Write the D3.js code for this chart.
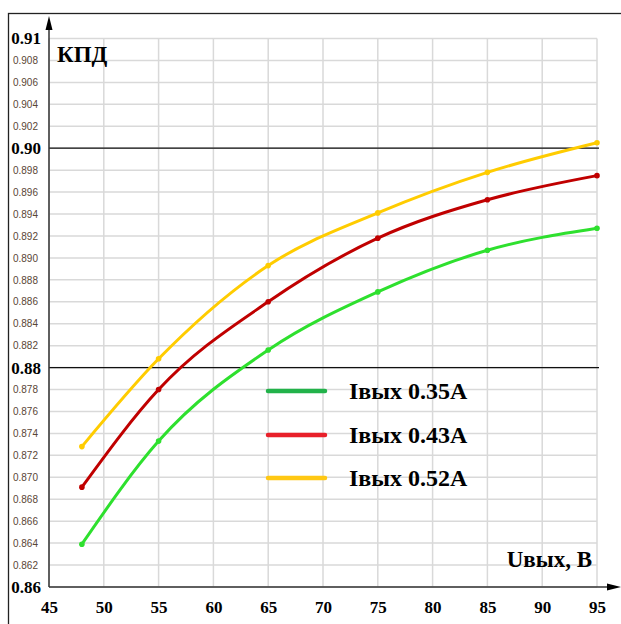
<!DOCTYPE html>
<html>
<head>
<meta charset="utf-8">
<script src="https://cdn.jsdelivr.net/npm/d3@7"></script>
<style>
  body { margin: 0; background: #fff; }
  svg { display: block; }
  .serif { font-family: "Liberation Serif", "Times New Roman", serif; font-weight: bold; }
</style>
</head>
<body>
<div id="chart"></div>
<script>
var
  width = 621,
  height = 624;

// data
var voltages = [48, 55, 65, 75, 85, 95];
var eff035 = [0.8639, 0.8733, 0.8816, 0.8869, 0.8907, 0.8927];
var eff043 = [0.8691, 0.8780, 0.8860, 0.8918, 0.8953, 0.8975];
var eff052 = [0.8728, 0.8808, 0.8893, 0.8941, 0.8978, 0.9005];
var seriesNames = ["Iвых 0.35A", "Iвых 0.43A", "Iвых 0.52A"];
var lineColors = ["#2ee02e", "#c00000", "#ffcc00"];
var legendColors = ["#22b24a", "#e8202a", "#ffc814"];
var xTicks = [45, 50, 55, 60, 65, 70, 75, 80, 85, 90, 95];
var yMajor = [0.86, 0.88, 0.90, 0.91];
var yMajorLabels = ["0.86", "0.88", "0.90", "0.91"];

var svg = d3.select("#chart")
  .append("svg")
  .attr("width", width)
  .attr("height", height);

// outer frame
svg.append("rect")
  .attr("x", 8.5).attr("y", 13.5)
  .attr("width", 620).attr("height", 620)
  .attr("fill", "none")
  .attr("stroke", "#222")
  .attr("stroke-width", 1.3);

var x = d3.scaleLinear().domain([45, 95]).range([49, 597]);
var y = d3.scaleLinear().domain([0.86, 0.91]).range([587, 38.5]);

var minorY = y.ticks(25).filter(function(v) {
  return !yMajor.some(function(m) { return Math.abs(m - v) < 1e-6; });
});

// gridlines
var grid = svg.append("g").attr("class", "grid");
grid.selectAll(".hgrid")
  .data(y.ticks(25))
  .enter().append("line")
  .attr("x1", x(45)).attr("x2", x(95))
  .attr("y1", function(d) { return y(d); })
  .attr("y2", function(d) { return y(d); })
  .attr("stroke", "#d9d9d9")
  .attr("stroke-width", 1.5);
grid.selectAll(".vgrid")
  .data(xTicks)
  .enter().append("line")
  .attr("x1", function(d) { return x(d); })
  .attr("x2", function(d) { return x(d); })
  .attr("y1", y(0.91)).attr("y2", y(0.86))
  .attr("stroke", "#d9d9d9")
  .attr("stroke-width", 1.5);

// black reference lines at 0.90 and 0.88
svg.selectAll(".refline")
  .data([0.90, 0.88])
  .enter().append("line")
  .attr("x1", x(45)).attr("x2", x(95) + 2)
  .attr("y1", function(d) { return y(d); })
  .attr("y2", function(d) { return y(d); })
  .attr("stroke", "#111")
  .attr("stroke-width", 1.2);

// axes with arrows
svg.append("line")
  .attr("x1", x(45)).attr("x2", x(45))
  .attr("y1", y(0.86)).attr("y2", 22)
  .attr("stroke", "#333").attr("stroke-width", 1.5);
svg.append("path")
  .attr("d", "M" + x(45) + ",16 L" + (x(45) - 3.5) + ",30 L" + (x(45) + 3.5) + ",30 Z")
  .attr("fill", "#000");
svg.append("line")
  .attr("x1", x(45)).attr("x2", 614)
  .attr("y1", y(0.86)).attr("y2", y(0.86))
  .attr("stroke", "#333").attr("stroke-width", 1.5);
svg.append("path")
  .attr("d", "M621," + y(0.86) + " L607," + (y(0.86) - 3.5) + " L607," + (y(0.86) + 3.5) + " Z")
  .attr("fill", "#000");

// x tick labels
var xAxis = d3.axisBottom(x).tickValues(xTicks).tickSize(0).tickPadding(14);
var gx = svg.append("g")
  .attr("transform", "translate(0," + y(0.86) + ")")
  .call(xAxis);
gx.select(".domain").remove();
gx.selectAll("text")
  .attr("class", "serif")
  .attr("font-size", 17)
  .attr("fill", "#000");

// y labels: minor
var gyMinor = svg.append("g")
  .attr("transform", "translate(" + (x(45) - 8) + ",0)")
  .call(d3.axisLeft(y).tickValues(minorY).tickSize(0).tickFormat(d3.format(".3f")));
gyMinor.select(".domain").remove();
gyMinor.selectAll("text")
  .attr("font-family", "'Liberation Sans', Arial, sans-serif")
  .attr("font-size", 10)
  .attr("fill", "#5a4636");

// y labels: major
var gyMajor = svg.append("g")
  .attr("transform", "translate(" + (x(45) - 5) + ",0)")
  .call(d3.axisLeft(y).tickValues(yMajor).tickSize(0)
    .tickFormat(function(d, i) { return yMajorLabels[i]; }));
gyMajor.select(".domain").remove();
gyMajor.selectAll("text")
  .attr("class", "serif")
  .attr("font-size", 17)
  .attr("fill", "#000");

// curves
var allSeries = [eff035, eff043, eff052];
var line = d3.line()
  .x(function(d, i) { return x(voltages[i]); })
  .y(function(d) { return y(d); })
  .curve(d3.curveMonotoneX);

allSeries.forEach(function(s, k) {
  svg.append("path")
    .attr("d", line(s))
    .attr("fill", "none")
    .attr("stroke", lineColors[k])
    .attr("stroke-width", 3);
  svg.selectAll(".pt" + k)
    .data(s)
    .enter().append("circle")
    .attr("cx", function(d, i) { return x(voltages[i]); })
    .attr("cy", function(d) { return y(d); })
    .attr("r", 2.8)
    .attr("fill", lineColors[k]);
});

// axis titles
svg.append("text")
  .attr("class", "serif")
  .attr("x", 57).attr("y", 62)
  .attr("font-size", 23)
  .text("КПД");
svg.append("text")
  .attr("class", "serif")
  .attr("x", 592).attr("y", 567)
  .attr("text-anchor", "end")
  .attr("font-size", 23)
  .text("Uвых, B");

// legend
var legendY = [391, 435, 478];
var legend = svg.selectAll(".legend")
  .data(seriesNames)
  .enter().append("g")
  .attr("transform", function(d, i) { return "translate(0," + legendY[i] + ")"; });
legend.append("line")
  .attr("x1", 268).attr("x2", 325)
  .attr("y1", 0).attr("y2", 0)
  .attr("stroke", function(d, i) { return legendColors[i]; })
  .attr("stroke-width", 4.5)
  .attr("stroke-linecap", "round");
legend.append("text")
  .attr("class", "serif")
  .attr("x", 349).attr("y", 8)
  .attr("font-size", 24)
  .text(function(d) { return d; });
</script>
</body>
</html>
